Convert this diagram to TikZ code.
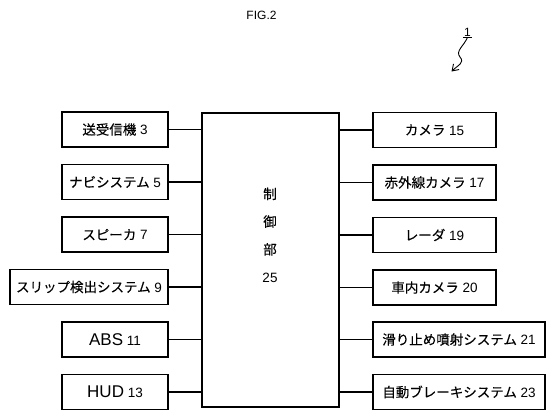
\documentclass[tikz,border=0pt]{standalone}
\usepackage{fontspec}
\setmainfont{Liberation Sans}
\newfontfamily\jp[FakeBold=0.2]{Noto Sans CJK JP}
\usetikzlibrary{arrows.meta}
\begin{document}
\begin{tikzpicture}[x=1pt,y=-1pt,
  box/.style={draw, line width=1.2pt, inner sep=0pt, minimum height=35pt, font=\fontsize{13.5}{15}\selectfont},
  lbox/.style={box, minimum width=106pt},
  lwide/.style={box, minimum width=158pt},
  rbox/.style={box, minimum width=123pt},
  rwide/.style={box, minimum width=172pt},
  conn/.style={line width=1.2pt}
]
\useasboundingbox (0,0) rectangle (546,410);

\node[font=\fontsize{12}{14}\selectfont] (fig) at (261.5,15) {FIG.2};

% control unit
\node[draw, line width=1.2pt, inner sep=0pt, minimum width=137pt, minimum height=294pt] (ctrl) at (270.5,260) {};
\node[align=center, inner sep=0pt, font=\fontsize{13.5}{27.7}\selectfont] (ctrltext) at (270,235) {{\jp 制}\\{\jp 御}\\{\jp 部}\\25};

% left boxes
\node[lbox] (trx) at (115,129.5) {{\jp 送受信機} 3};
\node[lbox] (navi) at (115,182) {{\jp ナビシステム} 5};
\node[lbox] (spk) at (115,234.5) {{\jp スピーカ} 7};
\node[lwide] (slip) at (89,287) {{\jp スリップ検出システム} 9};
\node[lbox] (abs) at (115,339.5) {{\fontsize{17}{19}\selectfont ABS} 11};
\node[lbox] (hud) at (115,392) {{\fontsize{17}{19}\selectfont HUD} 13};

% right boxes
\node[rbox] (cam) at (434.5,130) {{\jp カメラ} 15};
\node[rbox] (ircam) at (434.5,182.5) {{\jp 赤外線カメラ} 17};
\node[rbox] (radar) at (434.5,235) {{\jp レーダ} 19};
\node[rbox] (incam) at (434.5,287.5) {{\jp 車内カメラ} 20};
\node[rwide] (anti) at (459,339.5) {{\jp 滑り止め噴射システム} 21};
\node[rwide] (brake) at (459,392) {{\jp 自動ブレーキシステム} 23};

% connectors
\foreach \n in {trx,navi,spk,slip,abs,hud}
  \draw[conn] (\n.east) -- (\n.east -| ctrl.west);
\foreach \n in {cam,ircam,radar,incam,anti,brake}
  \draw[conn] (\n.west) -- (\n.west -| ctrl.east);

% reference numeral
\node[inner sep=1pt, font=\fontsize{12}{14}\selectfont] (ref) at (467.5,32) {1};
\coordinate (tip) at (451.5,71.5);
\draw[line width=0.9pt] (ref.south west) -- (ref.south east);
\draw[line width=0.9pt, -{Straight Barb[length=6pt,width=8pt]}]
  (ref.south) .. controls (464,46) and (455,51) .. (460,57)
  .. controls (465,63) and (458,65) .. (tip);
\end{tikzpicture}
\end{document}
